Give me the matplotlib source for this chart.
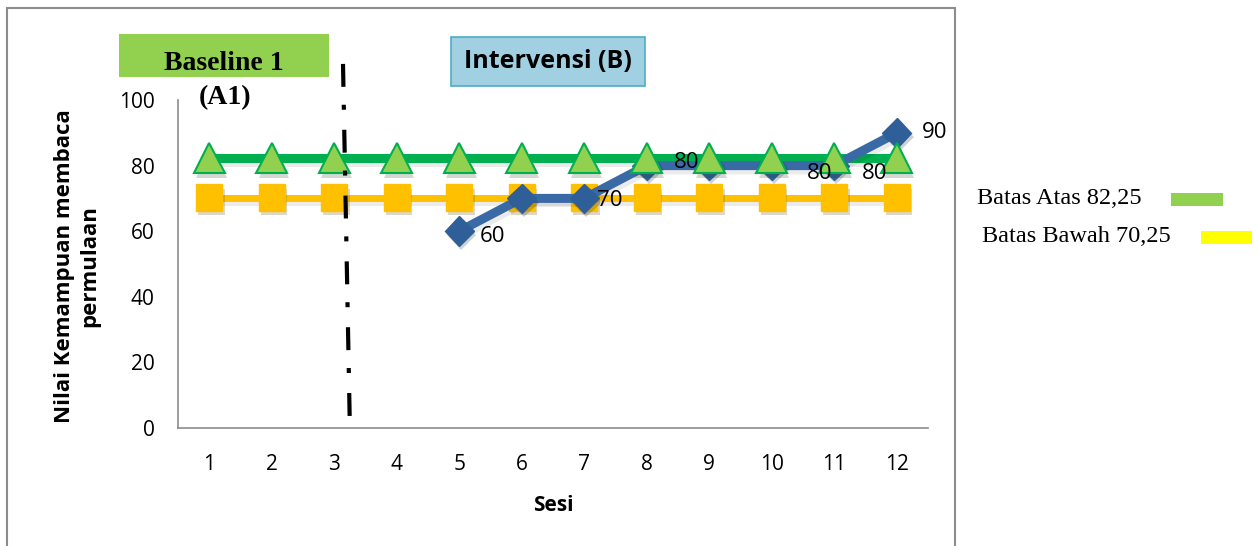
import numpy as np
import matplotlib.pyplot as plt
import matplotlib.patches as mpatches
import matplotlib.patheffects as pe

plt.rcParams["font.family"] = ["Open Sans", "DejaVu Sans"]
plt.rcParams["font.size"] = 15

# Data
sesi = np.arange(1, 13)
batas_atas = [82.25] * 12
batas_bawah = [70.25] * 12
sesi_b = np.arange(5, 13)
nilai_b = [60, 70, 70, 80, 80, 80, 80, 90]
# (sesi, nilai, offset x px, offset y px) for data labels
label_b = [(5, 60, 33, -5), (7, 70, 26, -2), (8, 80, 40, 3), (11, 80, -15, -8), (12, 80, -22, -8), (12, 90, 38, 0)]

mark_shadow = [pe.SimplePatchShadow(offset=(1.5, -3), alpha=0.2), pe.Normal()]
line_shadow = [pe.SimpleLineShadow(offset=(1.5, -3), alpha=0.08), pe.Normal()]

fig = plt.figure(figsize=(12.58, 5.46), dpi=100)
ax = fig.add_axes([178 / 1258, 1 - 428 / 546, 750 / 1258, 328 / 546])

# outer frame of the chart area
fig.patches.append(mpatches.Rectangle((7 / 1258, -0.05), 948 / 1258, 1 - 8 / 546 + 0.05,
                                      transform=fig.transFigure, fill=False,
                                      edgecolor='#8c8c8c', lw=1.5))

ax.plot(sesi, batas_atas, color='#00b050', lw=6.5, zorder=2, path_effects=line_shadow)
ax.plot(sesi, batas_bawah, color='#ffc000', lw=5, zorder=2, path_effects=line_shadow)
ax.plot(sesi, batas_bawah, ls='none', marker='s', ms=19, mfc='#ffc000', mec='#ffc000',
        zorder=3, path_effects=mark_shadow)
ax.plot(sesi_b, nilai_b, color='#3a6aa5', lw=6.5, zorder=4, path_effects=line_shadow)
ax.plot(sesi_b, nilai_b, ls='none', marker='D', ms=15, mfc='#2f5f98', mec='#2f5f98',
        zorder=4, path_effects=mark_shadow)
ax.plot(sesi, batas_atas, ls='none', marker='^', ms=22, mfc='#92d050', mec='#00b050',
        mew=1.5, zorder=5, path_effects=mark_shadow)

for s, v, dx, dy in label_b:
    ax.annotate(str(v), (s, v), xytext=(dx, dy), textcoords='offset pixels',
                ha='center', va='center', fontsize=16, zorder=6)

# garis perubahan fase A1 -> B
ax.plot([3.14, 3.25], [111, 0], color='black', lw=3, dashes=(5.5, 4.3, 1.2, 4.8),
        clip_on=False, zorder=6)

ax.set_xlim(0.5, 12.5)
ax.set_ylim(0, 100)
ax.set_xticks(sesi)
ax.set_yticks(range(0, 101, 20))
ax.tick_params(length=0)
ax.tick_params(axis='x', pad=19, labelsize=15)
ax.tick_params(axis='y', pad=17, labelsize=15)
for side in ['top', 'right']:
    ax.spines[side].set_visible(False)
for side in ['left', 'bottom']:
    ax.spines[side].set_color('#8c8c8c')
    ax.spines[side].set_linewidth(1.2)

ax.set_xlabel('Sesi', fontweight='bold', fontsize=15, labelpad=14)
fig.text(77 / 1258, 1 - 266 / 546, 'Nilai Kemampuan membaca\npermulaan', rotation=90,
         ha='center', va='center', fontweight='bold', fontsize=16, linespacing=1.3)

# judul fase
fig.patches.append(mpatches.Rectangle((119 / 1258, 1 - 77 / 546), 210 / 1258, 43 / 546,
                                      transform=fig.transFigure, facecolor='#92d050',
                                      edgecolor='none'))
fig.text(224 / 1258, 1 - 63 / 546, 'Baseline 1', ha='center', va='center',
         family='Liberation Serif', fontweight='bold', fontsize=20)
fig.text(225 / 1258, 1 - 98 / 546, '(A1)', ha='center', va='center',
         family='Liberation Serif', fontweight='bold', fontsize=20)
fig.patches.append(mpatches.Rectangle((451 / 1258, 1 - 86 / 546), 194 / 1258, 49 / 546,
                                      transform=fig.transFigure, facecolor='#a0d0e2',
                                      edgecolor='#4bacc6', lw=1.2))
fig.text(548 / 1258, 1 - 62 / 546, 'Intervensi (B)', ha='center', va='center',
         fontweight='bold', fontsize=18)

# keterangan di kanan
fig.text(977 / 1258, 1 - 198 / 546, 'Batas Atas 82,25', ha='left', va='center',
         family='Liberation Serif', fontsize=17.5)
fig.patches.append(mpatches.Rectangle((1171 / 1258, 1 - 206 / 546), 52 / 1258, 13 / 546,
                                      transform=fig.transFigure, facecolor='#92d050',
                                      edgecolor='none'))
fig.text(982 / 1258, 1 - 237 / 546, 'Batas Bawah 70,25', ha='left', va='center',
         family='Liberation Serif', fontsize=17.5)
fig.patches.append(mpatches.Rectangle((1201 / 1258, 1 - 244 / 546), 51 / 1258, 13 / 546,
                                      transform=fig.transFigure, facecolor='#ffff00',
                                      edgecolor='none'))

plt.savefig('out.png', dpi=100)
